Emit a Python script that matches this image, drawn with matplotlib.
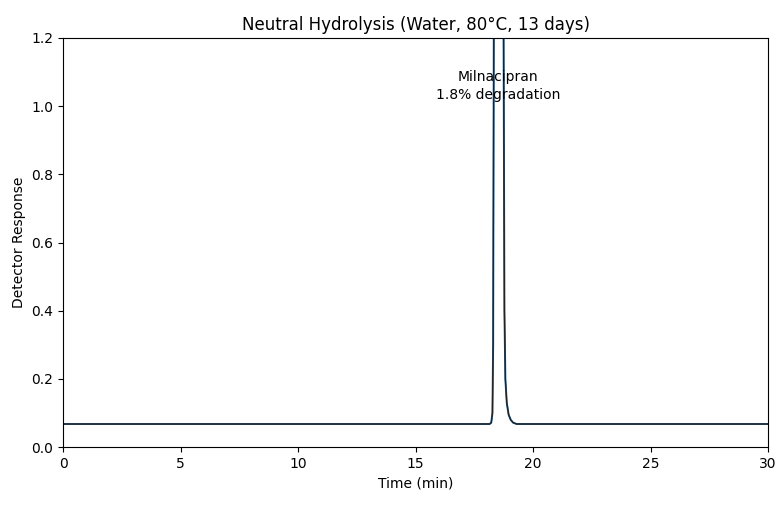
import matplotlib
matplotlib.use("Agg")
import matplotlib.pyplot as plt

# chromatogram (time in min, detector response)
time_min = [0.0, 10.0, 18.15, 18.22, 18.27, 18.30, 18.33, 18.40, 18.55,
            18.68, 18.74, 18.78, 18.82, 18.88, 18.96, 19.05, 19.15, 19.30, 25.0, 30.0]
response = [0.068, 0.068, 0.068, 0.072, 0.10, 0.30, 1.30, 3.0, 4.0,
            3.0, 1.30, 0.40, 0.20, 0.13, 0.095, 0.080, 0.072, 0.068, 0.068, 0.068]

peak_label = "Milnacipran\n1.8% degradation"
peak_label_pos = (18.5, 1.06)

fig = plt.figure(figsize=(7.79, 5.2), dpi=100)
ax = fig.add_axes([0.081, 0.140, 0.905, 0.787])

ax.plot(time_min, response, color="#1f5a8a", linewidth=1.4)
ax.plot(time_min, response, color="#222222", linewidth=0.9)

ax.text(peak_label_pos[0], peak_label_pos[1], peak_label,
        ha="center", va="center", fontsize=10, linespacing=1.4)

ax.set_xlim(0, 30)
ax.set_ylim(0, 1.2)
ax.set_xlabel("Time (min)")
ax.set_ylabel("Detector Response")
ax.set_title("Neutral Hydrolysis (Water, 80°C, 13 days)", fontsize=12)

fig.savefig("out.png", dpi=100)
